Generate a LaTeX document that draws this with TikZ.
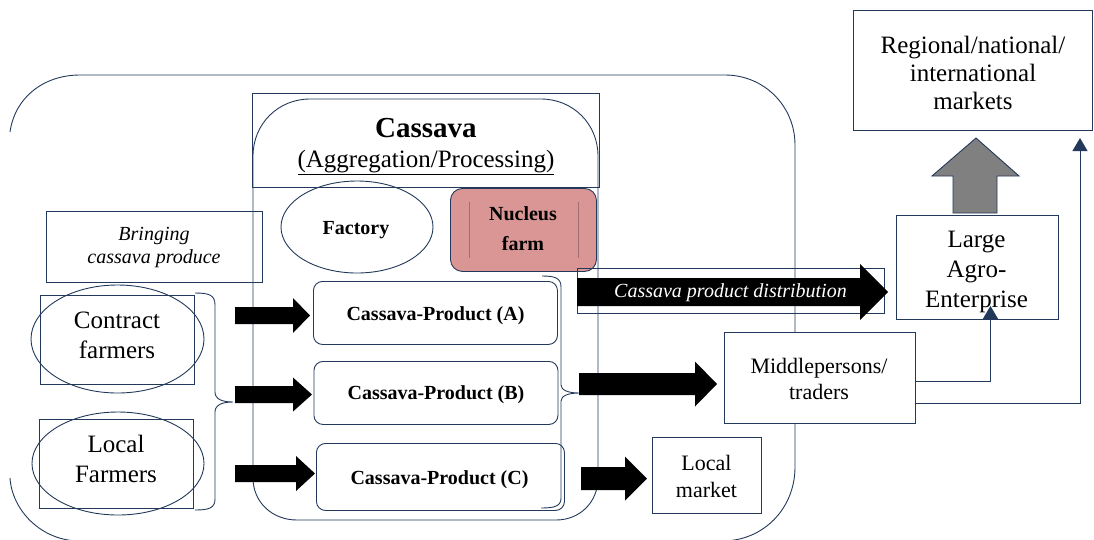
\documentclass[tikz,border=0pt]{standalone}
\usepackage{fontspec}
\setmainfont{Liberation Serif}
\usetikzlibrary{shapes.geometric,arrows.meta,calc}
\definecolor{lc}{RGB}{35,57,91}
\definecolor{nuc}{RGB}{217,150,148}
\definecolor{nucl}{RGB}{160,112,112}
\definecolor{grayarr}{RGB}{128,128,128}
\newcommand{\fatarr}[6]{\fill[black] (#1,#3-#4) -- (#2,#3-#4) -- (#2,#3-#5) -- (#6,#3) -- (#2,#3+#5) -- (#2,#3+#4) -- (#1,#3+#4) -- cycle;}
\tikzset{
  ln/.style={draw=lc, line width=0.9pt},
  boxn/.style={ln, rectangle, inner sep=0, anchor=north west},
  rbox/.style={ln, rectangle, rounded corners=9pt, inner sep=0, anchor=north west},
  ell/.style={ln, ellipse, inner sep=0},
  txt/.style={inner sep=0, align=center},
  tip/.style={-{Triangle[width=15pt,length=13pt]}},
}
\begin{document}
\begin{tikzpicture}[x=1pt,y=-1pt]
\useasboundingbox (0,0) rectangle (1094,539);
\begin{scope}
\clip (0,0) rectangle (1094,539);
% outer rounded frame (left side and bottom cut)
\draw[ln] (10,132) .. controls (15,97) and (44,75) .. (80,75) -- (725,75)
  .. controls (764,75) and (795,106) .. (795,145) -- (795,467)
  .. controls (795,508) and (764,541) .. (722,541) -- (80,541)
  .. controls (41,541) and (12,510) .. (10,478);
\end{scope}
% inner cassava shape
\draw[ln] (253,156) .. controls (253,124) and (278,99) .. (310,99) -- (541,99)
  .. controls (573,99) and (598,124) .. (598,156) -- (598,478)
  .. controls (598,502) and (580,520) .. (556,520) -- (297,520)
  .. controls (272,520) and (253,502) .. (253,478) -- cycle;
\node[boxn, minimum width=347, minimum height=94] (titlebox) at (252,93) {};
\node[txt, anchor=base, font=\bfseries\fontsize{29}{32}\selectfont] (ttl) at (426,137) {Cassava};
\node[txt, anchor=base, font=\fontsize{25}{30}\selectfont] (sub) at (426,167) {\underline{(Aggregation/Processing)}};
% bringing
\node[boxn, minimum width=216, minimum height=71] (bring) at (46,211) {};
\node[txt, font=\itshape\fontsize{20}{23}\selectfont] (bringt) at (154,247) {Bringing\\cassava produce};
% farmers
\node[boxn, minimum width=154, minimum height=89] (cfr) at (40,295) {};
\node[ell, minimum width=173, minimum height=108] (cfe) at (117.5,339) {};
\node[txt, font=\fontsize{25}{30}\selectfont] (cft) at (117,335.5) {Contract\\farmers};
\node[boxn, minimum width=154, minimum height=89] (lfr) at (39,419) {};
\node[ell, minimum width=172, minimum height=103] (lfe) at (118,463.5) {};
\node[txt, font=\fontsize{25}{30}\selectfont] (lft) at (116,459) {Local\\Farmers};
% factory, nucleus
\node[ell, minimum width=152, minimum height=92] (fac) at (357,227) {};
\node[txt, font=\bfseries\fontsize{20}{30}\selectfont] (fact) at (356,230.5) {Factory};
\node[boxn, rounded corners=12pt, fill=nuc, minimum width=146, minimum height=83] (nuc) at (450,188) {};
\draw[nucl, line width=0.8pt] ($(nuc.north west)+(19,14)$) -- ($(nuc.south west)+(19,-14)$);
\draw[nucl, line width=0.8pt] ($(nuc.north east)+(-19,14)$) -- ($(nuc.south east)+(-19,-14)$);
\node[txt, font=\bfseries\fontsize{20}{30}\selectfont] (nuct) at (523,229) {Nucleus\\farm};
% products
\node[rbox, minimum width=244, minimum height=63] (pa) at (313,281) {};
\node[txt, font=\bfseries\fontsize{20}{24}\selectfont] (pat) at (435.5,316) {Cassava-Product (A)};
\node[rbox, minimum width=244, minimum height=63] (pb) at (313.5,361) {};
\node[txt, font=\bfseries\fontsize{20}{24}\selectfont] (pbt) at (436,395) {Cassava-Product (B)};
\node[rbox, minimum width=248, minimum height=67] (pc) at (316,443) {};
\node[txt, font=\bfseries\fontsize{20}{24}\selectfont] (pct) at (439.5,480) {Cassava-Product (C)};
% braces
\draw[ln] (195,293) .. controls (209,293) and (215,295) .. (215,305) -- (215,392)
  .. controls (215,399) and (222,402) .. (233,402)
  .. controls (222,402) and (215,405) .. (215,412) -- (215,499)
  .. controls (215,508) and (209,510) .. (195,510);
\draw[ln] (542,276) .. controls (555,276) and (561,278) .. (561,287) -- (561,385)
  .. controls (561,390) and (568,393) .. (579,393)
  .. controls (568,393) and (561,396) .. (561,401) -- (561,498)
  .. controls (561,506) and (555,508) .. (541,508);
% distribution frame
\node[boxn, minimum width=307, minimum height=45] (distf) at (577,268) {};
% right-hand boxes
\node[boxn, fill=white, minimum width=191, minimum height=91] (mid) at (724,332) {};
\node[txt, font=\fontsize{22}{26}\selectfont] (midt) at (819,378.5) {Middlepersons/\\traders};
\node[boxn, minimum width=109, minimum height=76] (loc) at (652,437) {};
\node[txt, font=\fontsize{22}{27}\selectfont] (loct) at (706.5,476) {Local\\market};
\node[boxn, minimum width=162, minimum height=104] (large) at (896,215) {};
\node[txt, font=\fontsize{25}{30}\selectfont] (larget) at (976.5,272) {Large\\Agro-\\Enterprise};
\node[boxn, minimum width=239, minimum height=120] (reg) at (853,10) {};
\node[txt, font=\fontsize{25}{28}\selectfont] (regt) at (973,72.5) {Regional/national/\\international\\markets};
% fat arrows
\fatarr{235}{293}{315.5}{8.5}{17.5}{310}
\fatarr{235}{293}{394.5}{8.5}{17}{312}
\fatarr{235}{296}{473.5}{8.5}{17.5}{315}
\fatarr{579}{695}{384}{11}{22.5}{717}
\fatarr{581}{625}{478.5}{11.5}{22}{647}
\fatarr{577}{860}{292}{14}{28}{888}
\node[txt, text=white, font=\itshape\fontsize{20}{24}\selectfont] (distt) at (730.5,292.5) {Cassava product distribution};
% gray arrow up
\filldraw[fill=grayarr, draw=lc, line width=0.9pt] (953,213) -- (953,176) -- (932,176) -- (976,138) -- (1019,176) -- (997,176) -- (997,213) -- cycle;
% connectors
\coordinate (rtip) at (1080,138);
\draw[ln, tip] ($(mid.east)+(0,3.5)$) -| ($(large.south)+(13,-14)$);
\draw[ln, tip] ($(mid.east)+(0,25.5)$) -| (rtip);
\end{tikzpicture}
\end{document}
